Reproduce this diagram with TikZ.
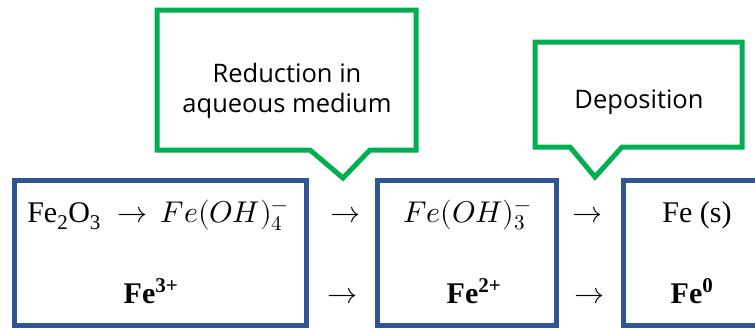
\documentclass[tikz,border=0pt]{standalone}
\usepackage{fontspec}
\usepackage{unicode-math}
\setmainfont{Liberation Serif}
\setmathfont{Latin Modern Math}
\newfontfamily\calloutfont{Open Sans}
\definecolor{boxblue}{HTML}{2F5597}
\definecolor{callgreen}{HTML}{00B050}
\begin{document}
\begin{tikzpicture}[x=1pt,y=-1pt,
  bluebox/.style={draw=boxblue, line width=5pt, inner sep=0, outer sep=0},
  callout/.style={draw=callgreen, line width=5pt, fill=white, line join=miter},
  chem/.style={font=\fontsize{30}{34}\selectfont, inner sep=0, anchor=base},
  lbl/.style={font=\calloutfont\fontsize{25.5}{29.5}\selectfont, align=center, inner sep=0, anchor=base}]
\useasboundingbox (0,0) rectangle (755,327);
% boxes
\node[bluebox, minimum width=292pt, minimum height=145pt] (b1) at (160,252.5) {};
\node[bluebox, minimum width=179pt, minimum height=145pt] (b2) at (466.5,252.5) {};
\node[bluebox, minimum width=157pt, minimum height=145pt] (b3) at (701.5,252.5) {};
% callouts
\draw[callout] (157,10) -- (416,10) -- (416,150) -- (370,150) -- (343,178) -- (310,150) -- (157,150) -- cycle;
\draw[callout] (535,42) -- (742,42) -- (742,147) -- (622,147) -- (595,177) -- (570,147) -- (535,147) -- cycle;
\node[lbl] (c1) at (287,112) {Reduction in\\aqueous medium};
\node[lbl] (c2) at (639,108) {Deposition};
% texts
\node[chem] (t11) at (158,222) {Fe\textsubscript{2}O\textsubscript{3}\hspace*{17pt}$\rightarrow$\hspace*{13pt}$Fe(OH)_4^-$};
\node[chem] (t21) at (151,303) {\textbf{Fe\textsuperscript{3+}}};
\node[chem] (t12) at (467,222) {$Fe(OH)_3^-$};
\node[chem] (t22) at (474,303) {\textbf{Fe\textsuperscript{2+}}};
\node[chem] (t13) at (697,222) {Fe (s)};
\node[chem] (t23) at (692,303) {\textbf{Fe\textsuperscript{0}}};
% arrows
\node[chem] (a11) at (345,222) {$\rightarrow$};
\node[chem] (a21) at (342,303) {$\rightarrow$};
\node[chem] (a12) at (587,222) {$\rightarrow$};
\node[chem] (a22) at (589,303) {$\rightarrow$};
\end{tikzpicture}
\end{document}
